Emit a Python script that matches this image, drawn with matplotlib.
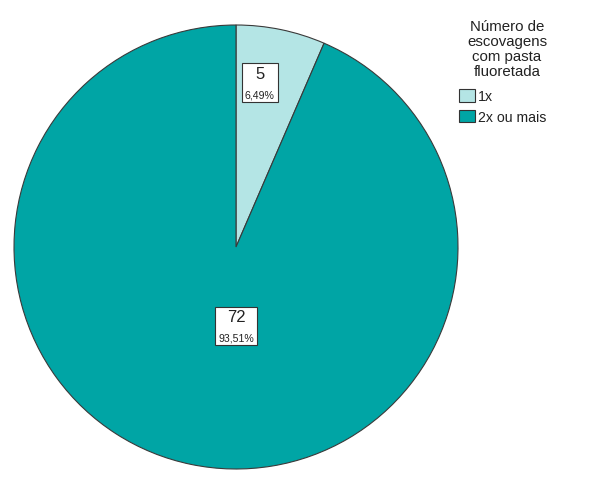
import matplotlib
matplotlib.use("Agg")
import matplotlib.pyplot as plt
from matplotlib.offsetbox import TextArea, VPacker, AnnotationBbox
import numpy as np

categories = ["1x", "2x ou mais"]
counts = [5, 72]
percents = ["6,49%", "93,51%"]
legend_title = "Número de\nescovagens\ncom pasta\nfluoretada"
colors = ["#b4e5e5", "#00a5a5"]

plt.rcParams["font.family"] = ["Liberation Sans", "DejaVu Sans"]

fig = plt.figure(figsize=(5.94, 4.81), dpi=100)
ax = fig.add_axes([14 / 594, 11 / 481, 444 / 594, 444 / 481])

wedges, _ = ax.pie(counts, colors=colors, startangle=90, counterclock=False,
                   wedgeprops=dict(edgecolor="#3a3a3a", linewidth=0.8))
ax.set_xlim(-1, 1)
ax.set_ylim(-1, 1)
ax.set_aspect("auto")

# label positions as (radius fraction, angle offset from wedge midpoint)
label_pos = [(0.747, 3.4), (0.356, 11.7)]
for w, n, p, (rf, off) in zip(wedges, counts, percents, label_pos):
    ang = np.deg2rad((w.theta1 + w.theta2) / 2 + off)
    x, y = rf * np.cos(ang), rf * np.sin(ang)
    top = TextArea(str(n), textprops=dict(fontsize=12, color="#222222"))
    bottom = TextArea(p, textprops=dict(fontsize=7.6, color="#222222"))
    box = VPacker(children=[top, bottom], align="center", pad=0, sep=6)
    ab = AnnotationBbox(box, (x, y), xycoords="data", frameon=True, pad=0.2,
                        bboxprops=dict(boxstyle="square,pad=0.2", fc="white",
                                       ec="#333333", lw=0.8))
    ax.add_artist(ab)

fig.text(507 / 594, 1 - 20 / 481, legend_title, ha="center", va="top",
         fontsize=10.8, color="#222222", linespacing=1.1, multialignment="center")

handles = [plt.Rectangle((0, 0), 1, 1, fc=c, ec="#333333", lw=0.8) for c in colors]
leg = fig.legend(handles, categories, loc="upper left",
                 bbox_to_anchor=(459 / 594, 1 - 90 / 481), frameon=False,
                 fontsize=10.2, handlelength=1.1, handleheight=1.0,
                 handletextpad=0.25, labelspacing=0.45, borderaxespad=0, borderpad=0)
for t in leg.get_texts():
    t.set_color("#222222")

fig.savefig("out.png", dpi=100, facecolor="white")
